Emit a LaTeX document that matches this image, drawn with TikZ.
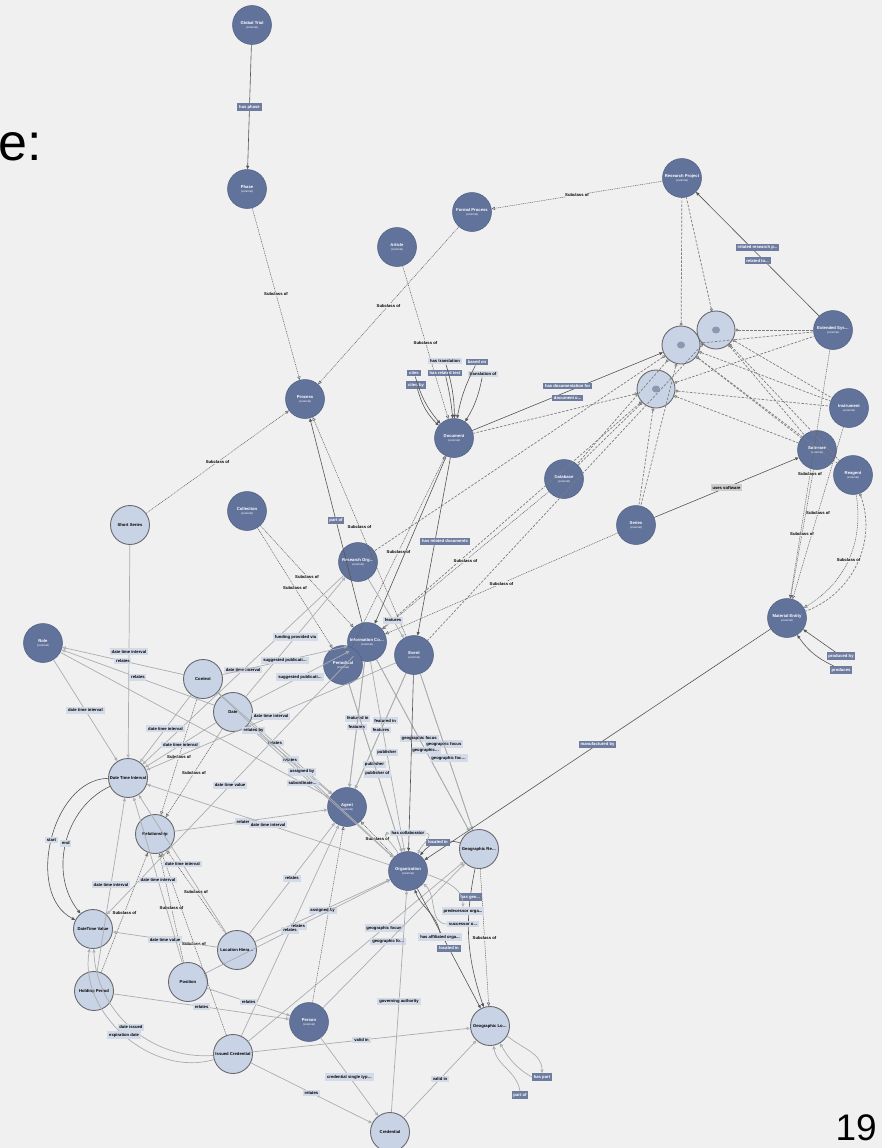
\documentclass[tikz,border=0pt]{standalone}
\usepackage{fontspec}
\setmainfont{Liberation Sans}
\usetikzlibrary{arrows.meta}

\definecolor{bgcol}{RGB}{240,240,240}
\definecolor{extfill}{RGB}{98,115,155}
\definecolor{extedge}{RGB}{80,94,128}
\definecolor{ownfill}{RGB}{200,211,229}
\definecolor{ownedge}{RGB}{105,105,110}
\definecolor{lblfill}{RGB}{212,219,232}
\definecolor{dlblfill}{RGB}{110,124,160}
\definecolor{glblfill}{RGB}{205,205,205}
\definecolor{linedark}{RGB}{85,85,85}
\definecolor{linegray}{RGB}{170,172,176}
\definecolor{subgray}{RGB}{95,95,95}
\definecolor{anongray}{RGB}{125,125,125}
\definecolor{cmid}{RGB}{140,152,178}

\begin{document}
\begin{tikzpicture}[x=1pt, y=1pt]
  \tikzstyle{extnode}=[circle, fill=extfill, draw=extedge, line width=0.5pt, minimum size=39pt,
                      inner sep=0pt, align=center, text=white, font=\fontsize{4.2}{4.5}\selectfont\bfseries]
  \tikzstyle{ownnode}=[circle, fill=ownfill, draw=ownedge, line width=0.9pt, minimum size=39pt,
                      inner sep=0pt, align=center, font=\fontsize{4.2}{4.5}\selectfont\bfseries]
  \tikzstyle{anonnode}=[circle, fill=ownfill, draw=ownedge, line width=0.9pt, minimum size=38pt,
                      path picture={\fill[cmid] (path picture bounding box.center) ellipse (4pt and 3.5pt);}]
  \tikzstyle{lbl}=[fill=lblfill, inner sep=1.8pt, font=\fontsize{4.2}{4.5}\selectfont\bfseries]
  \tikzstyle{dlbl}=[fill=dlblfill, inner sep=1.8pt, text=white, font=\fontsize{4.2}{4.5}\selectfont\bfseries]
  \tikzstyle{glbl}=[fill=glblfill, inner sep=1.8pt, font=\fontsize{4.2}{4.5}\selectfont\bfseries]
  \tikzstyle{slbl}=[fill=bgcol, inner sep=0.6pt, font=\fontsize{4.2}{4.5}\selectfont\bfseries]
  \tikzstyle{extline}=[draw=linedark, line width=0.6pt, -{Triangle[length=3.5pt, width=3pt]}]
  \tikzstyle{propline}=[draw=linegray, line width=0.7pt, -{Triangle[open, length=3.5pt, width=3.2pt]}]
  \tikzstyle{subline}=[draw=subgray, line width=0.5pt, dash pattern=on 1pt off 0.8pt,
                       -{Triangle[open, length=3.5pt, width=3.2pt]}]
  \tikzstyle{anonline}=[draw=anongray, line width=0.7pt, dash pattern=on 2.5pt off 1.5pt,
                        {Circle[open, length=3pt, width=3pt]}-]

  % Background
  \fill[bgcol] (0,0) rectangle (882,-1148);
  \useasboundingbox (0,0) rectangle (882,-1148);

  % Slide fragments
  \node[anchor=base west, inner sep=0pt, font=\fontsize{52}{52}\selectfont] (etext) at (-2,-160) {e:};
  \node[anchor=base east, inner sep=0pt, font=\fontsize{37}{37}\selectfont] (pagenum) at (877,-1140) {19};

  % External classes
  \foreach \n/\x/\y/\t in {gtrial/252/25/Global Trial, phase/247/189/Phase, fproc/472/212/Formal Process,
      article/397/247/Article, rproj/682/178/Research Project, process/305/399/Process,
      document/454/438/Document, extsys/833/330/Extended Sys\dots, instrument/849/408/Instrument,
      software/817/450/Software, reagent/853/475/Reagent, database/564/479/Database,
      series/636/525/Series, collection/247/511/Collection, rorg/358/562/Research Org\dots,
      matent/787/618/Material Entity, role/43/643/Role, infoc/367/642/Information Co\dots,
      periodical/343/665/Periodical, event/414/655/Event, agent/347/807/Agent,
      org/408/871/Organization, person/309/1022/Person}
    \node[extnode] (\n) at (\x,-\y) {\t\\[-0.5pt]{\fontsize{2.8}{3}\selectfont\mdseries(external)}};

  % Own classes
  \foreach \n/\x/\y/\t in {shortser/130/525/Short Series, context/203/679/Context, date/233/712/Date,
      dti/128/778/Date Time Interval, relationship/155/834/Relationship, georeg/479/849/Geographic Re\dots,
      dtv/93/929/DateTime Value, lochier/237/950/Location Hiera\dots, position/188/982/Position,
      holding/94/991/Holding Period, issued/233/1054/Issued Credential, geoloc/490/1026/Geographic Lo\dots,
      credential/390/1132/Credential}
    \node[ownnode] (\n) at (\x,-\y) {\t};

  % Anonymous classes
  \foreach \n/\x/\y in {c1/681/345, c2/716/330, c3/656/389}
    \node[anonnode] (\n) at (\x,-\y) {};

  % Anonymous class links
  \foreach \src/\dst in {c1/rproj, c2/rproj, c2/extsys, c1/extsys, c3/extsys, c2/instrument,
      c1/instrument, c3/instrument, c2/software, c1/software, c3/software, c1/reagent, c2/reagent,
      c3/document, c3/series, c1/series, c3/database, c1/database, c3/infoc, c1/rorg, c2/event}
    \draw[anonline] (\src) -- (\dst);
  \draw[anonline] (reagent) to[bend left=45] (matent);

  % Subclass links
  \foreach \src/\dst in {phase/process, fproc/process, article/document, rproj/fproc, shortser/process,
      event/process, collection/infoc, collection/periodical, database/infoc, series/infoc,
      periodical/document, context/relationship, date/relationship, org/agent, georeg/geoloc,
      holding/relationship, position/relationship, lochier/relationship, issued/relationship,
      extsys/matent, instrument/matent, software/matent}
    \draw[subline] (\src) -- node[slbl] {Subclass of} (\dst);
  \draw[subline] (reagent) to[bend left=34] node[slbl] {Subclass of} (matent);
  \draw[subline] (person) -- (agent);

  % Own properties
  \foreach \src/\dst/\txt/\ps in {shortser/dti/date time interval/0.5, context/role/relates/0.5,
      date/role/relates/0.5, role/dti/date time interval/0.5, rorg/dti/date time interval/0.5,
      date/rorg/funding provided via/0.5, context/infoc/suggested publicati\dots/0.5,
      date/infoc/suggested publicati\dots/0.5, context/dti/date time interval/0.5,
      date/dti/date time interval/0.5, infoc/dtv/date time value/0.5, event/dti/date time interval/0.5,
      context/agent/relates/0.5, date/agent/relates/0.5, date/org/related by/0.04,
      context/org/assigned by/0.48, role/agent/subordinate\dots/0.9, relationship/agent/relates/0.45,
      org/dti/date time interval/0.5, infoc/georeg/geographic focus/0.46,
      infoc/georeg/geographic\dots/0.53, event/georeg/geographic focus/0.45,
      event/georeg/geographic foc\dots/0.54, infoc/agent/featured in/0.45, infoc/agent/features/0.52,
      event/agent/featured in/0.41, event/agent/features/0.49, infoc/org/publisher/0.48,
      periodical/org/publisher/0.48, periodical/org/publisher of/0.535, rorg/event/features/0.7,
      lochier/agent/relates/0.5, lochier/org/assigned by/0.5, position/org/relates/0.5,
      issued/agent/relates/0.5, issued/georeg/geographic focus/0.63, person/georeg/geographic fo\dots/0.46,
      credential/org/governing authority/0.5, issued/geoloc/valid in/0.5,
      person/credential/credential single typ\dots/0.5, issued/credential/relates/0.5,
      credential/geoloc/valid in/0.5, position/person/relates/0.5, holding/person/relates/0.5,
      lochier/dtv/date time value/0.5, lochier/dti/date time interval/0.5,
      position/dti/date time interval/0.5, holding/dti/date time interval/0.5}
    \draw[propline] (\src) -- node[lbl, pos=\ps] {\txt} (\dst);
  \draw[propline] (issued) to[bend left=46] node[lbl] {date issued} (dtv);
  \draw[propline] (issued) to[bend left=58] node[lbl] {expiration date} (dtv);

  % External properties
  \foreach \src/\dst/\txt/\ps in {gtrial/phase/has phase/0.5, infoc/process/part of/0.5,
      matent/org/manufactured by/0.5, org/geoloc/located in/0.5}
    \draw[extline] (\src) -- node[dlbl, pos=\ps] {\txt} (\dst);
  \draw[extline] (document) -- node[dlbl, pos=0.47, xshift=10pt] {has related documents} (event);
  \draw[extline] (document) -- (infoc);
  \draw[extline] (event) -- (org);
  \draw[extline, {Triangle[length=3.5pt, width=3pt]}-] (rproj) --
    node[dlbl, yshift=6.5pt] {related research p...} node[dlbl, yshift=-6.5pt] {related to...} (extsys);
  \draw[extline, {Triangle[length=3.5pt, width=3pt]}-] (c1) --
    node[dlbl, yshift=5.5pt] {has documentation for} node[dlbl, yshift=-6.5pt] {document o...} (document);
  \draw[extline] (series) -- node[glbl] {uses software} (software);
  \draw[extline] (dti) to[bend right=76] node[lbl] {start} (dtv);
  \draw[extline] (dti) to[bend right=52] node[lbl] {end} (dtv);
  \draw[extline] (georeg) to[bend right=35] node[dlbl] {located in} (org);
  \draw[extline] (georeg) to[bend right=15] node[dlbl, pos=0.19] {has geo...} (geoloc);

  % Document loops
  \node[lbl] (ltrans) at (445,-361) {has translation};
  \node[dlbl] (lbased) at (477,-362) {based on};
  \node[dlbl] (lcites) at (414,-373) {cites};
  \node[dlbl] (lrelt) at (445,-373) {has related text};
  \node[lbl] (ltrof) at (483,-374) {translation of};
  \node[dlbl] (lcitby) at (416,-385) {cited by};
  \foreach \lb/\bd in {ltrans/8, lbased/-8, lcites/-12, lrelt/4, ltrof/10, lcitby/-15}
    \draw[extline] (\lb) to[bend left=\bd] (document);

  % Organization loops
  \node[lbl] (lcollab) at (408,-833) {has collaborator};
  \node[lbl] (lpred) at (463,-911) {predecessor orga...};
  \node[lbl] (lsucc) at (463,-924) {successor o...};
  \node[lbl] (laffil) at (440,-937) {has affiliated orga...};
  \draw[propline] (org.120) to[out=110, in=190] (lcollab.west);
  \draw[propline] (lcollab.east) to[out=-10, in=70] (org.60);
  \draw[propline] (org.-10) to[out=-20, in=90] (lpred.north);
  \draw[propline] (lsucc.west) to[out=180, in=-40] (org.-40);
  \draw[extline] (laffil.north) to[out=100, in=-70] (org.-70);

  % Material entity loops
  \node[dlbl] (lprodby) at (841,-656) {produced by};
  \node[dlbl] (lprods) at (841,-670) {produces};
  \draw[extline] (lprodby) -- (matent);
  \draw[extline] (lprods) to[bend left=15] (matent);

  % Geographic location loops
  \node[dlbl] (lhaspart) at (542,-1077) {has part};
  \node[dlbl] (lpartof) at (520,-1095) {part of};
  \draw[propline] (geoloc.-30) to[out=-40, in=90] (lhaspart.north);
  \draw[propline] (lhaspart.west) to[out=150, in=-60] (geoloc.-60);
  \draw[propline] (lpartof.north) to[out=100, in=-80] (geoloc.-80);
\end{tikzpicture}
\end{document}
